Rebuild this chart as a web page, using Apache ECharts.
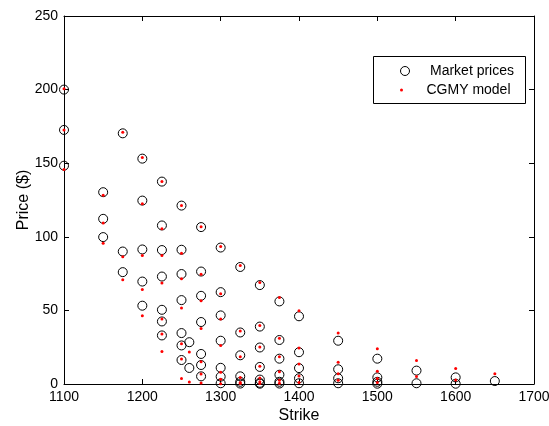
<!DOCTYPE html>
<html>
<head>
<meta charset="utf-8">
<script src="https://cdn.jsdelivr.net/npm/echarts@6/dist/echarts.min.js"></script>
<style>
html,body{margin:0;padding:0;background:#fff;}
#chart{width:549px;height:426px;}
</style>
</head>
<body>
<div id="chart"></div>
<script>
// Strikes (x) and prices per strike
const strikes = [1100, 1150, 1175, 1200, 1225, 1250, 1260, 1275, 1300, 1325, 1350, 1375, 1400, 1450, 1500, 1550, 1600, 1650];
const marketPrices = [
  [200, 172.6, 148.3],
  [130.3, 112.2, 99.8],
  [170.3, 90.0, 76.0],
  [153.1, 124.6, 91.4, 69.6, 53.2],
  [137.5, 107.7, 91.0, 73.0, 50.4, 42.5, 33.0],
  [121.2, 91.2, 74.7, 57.0, 34.6, 26.2, 16.3],
  [28.4, 10.9],
  [106.6, 76.4, 59.9, 42.1, 20.4, 12.9, 5.2],
  [92.7, 62.4, 46.6, 29.4, 11.0, 5.0, 0.5],
  [79.5, 35.0, 19.5, 5.2, 1.5, 0.3],
  [67.2, 39.0, 24.8, 11.6, 3.0, 0.8, 0.2],
  [56.1, 29.9, 17.2, 6.3, 1.5, 0.3],
  [46.0, 21.6, 10.8, 3.9, 0.5],
  [29.4, 10.0, 3.9, 0.5],
  [17.2, 4.5, 1.5, 0.2],
  [9.1, 0.5],
  [4.5, 0.2],
  [2.0]
];
const modelPrices = [
  [200.5, 172.6, 145.8],
  [128.3, 109.3, 95.7],
  [171.0, 86.4, 70.8],
  [153.8, 122.4, 87.3, 64.2, 46.4],
  [137.5, 105.4, 87.3, 68.6, 44.1, 33.9, 22.1],
  [121.2, 88.9, 71.5, 51.6, 27.4, 17.0, 3.8],
  [21.7, 1.4],
  [106.8, 74.5, 56.5, 37.7, 15.1, 6.8, 0.7],
  [93.4, 61.3, 44.1, 26.2, 7.9, 3.2, 0.2],
  [80.5, 36.0, 18.5, 4.5, 1.0, 0.3],
  [69.0, 39.8, 25.2, 12.0, 4.0, 1.5, 0.3],
  [58.8, 31.0, 18.5, 8.3, 2.5, 0.5],
  [49.8, 24.4, 13.6, 5.5, 1.0],
  [34.6, 14.7, 7.0, 2.5],
  [24.0, 8.6, 3.7, 1.1],
  [16.0, 5.1],
  [10.6, 2.7],
  [7.0]
];
const xTicks = [1100, 1200, 1300, 1400, 1500, 1600, 1700];
const yTicks = [0, 50, 100, 150, 200, 250];
const seriesNames = ['Market prices', 'CGMY model'];

function toPoints(lists) {
  const pts = [];
  strikes.forEach((k, i) => lists[i].forEach(v => pts.push([k, v])));
  return pts;
}

const FONT = 'Liberation Sans, Arial, Helvetica, sans-serif';
const chart = echarts.init(document.getElementById('chart'), null, {renderer: 'canvas'});

const axisCommon = {
  axisLine: {show: true, onZero: false, lineStyle: {color: '#000', width: 1}},
  axisTick: {show: true, inside: true, length: 5, lineStyle: {color: '#000'}},
  splitLine: {show: false}
};
const plain = v => String(v);

chart.setOption({
  animation: false,
  backgroundColor: '#fff',
  grid: {left: 64, right: 15, top: 16, bottom: 42, containLabel: false, outerBoundsMode: 'none'},
  xAxis: [
    Object.assign({
      type: 'value', position: 'bottom',
      min: xTicks[0], max: xTicks[xTicks.length - 1], interval: 100,
      name: 'Strike', nameLocation: 'middle', nameGap: 24, nameMoveOverlap: false,
      nameTextStyle: {fontFamily: FONT, fontSize: 16, color: '#000'},
      axisLabel: {show: true, margin: 6, fontFamily: FONT, fontSize: 14, color: '#000', formatter: plain}
    }, axisCommon),
    Object.assign({
      type: 'value', position: 'top',
      min: xTicks[0], max: xTicks[xTicks.length - 1], interval: 100,
      axisLabel: {show: false}
    }, axisCommon)
  ],
  yAxis: [
    Object.assign({
      type: 'value', position: 'left',
      min: yTicks[0], max: yTicks[yTicks.length - 1], interval: 50,
      name: 'Price ($)', nameLocation: 'middle', nameGap: 32, nameMoveOverlap: false,
      nameTextStyle: {fontFamily: FONT, fontSize: 16, color: '#000'},
      axisLabel: {show: true, margin: 6, fontFamily: FONT, fontSize: 14, color: '#000', formatter: plain}
    }, axisCommon),
    Object.assign({
      type: 'value', position: 'right',
      min: yTicks[0], max: yTicks[yTicks.length - 1], interval: 50,
      axisLabel: {show: false}
    }, axisCommon)
  ],
  graphic: [{
    type: 'rect', z: 10,
    shape: {x: 373.5, y: 56.5, width: 152, height: 47},
    style: {fill: '#fff', stroke: '#000', lineWidth: 1}
  }],
  legend: [
    {
      data: [{name: seriesNames[0], icon: 'circle',
        itemStyle: {color: 'rgba(0,0,0,0)', borderColor: '#000', borderWidth: 1}}],
      left: 400, top: 64, padding: 0, itemWidth: 40, itemHeight: 9,
      selectedMode: false, z: 20,
      textStyle: {fontFamily: FONT, fontSize: 14, color: '#000'}
    },
    {
      data: [{name: seriesNames[1], icon: 'circle', itemStyle: {color: '#ff0000', borderWidth: 0}}],
      left: 400, top: 83, padding: 0, itemWidth: 40, itemHeight: 3,
      selectedMode: false, z: 20,
      textStyle: {fontFamily: FONT, fontSize: 14, color: '#000'}
    }
  ],
  series: [
    {
      name: seriesNames[0], type: 'scatter', xAxisIndex: 0, yAxisIndex: 0,
      symbol: 'circle', symbolSize: 9, clip: false,
      itemStyle: {color: 'rgba(0,0,0,0)', borderColor: '#000', borderWidth: 1, opacity: 1},
      emphasis: {disabled: true},
      data: toPoints(marketPrices)
    },
    {
      name: seriesNames[1], type: 'scatter', xAxisIndex: 0, yAxisIndex: 0,
      symbol: 'circle', symbolSize: 3, clip: false,
      itemStyle: {color: '#ff0000', opacity: 1},
      emphasis: {disabled: true},
      data: toPoints(modelPrices)
    }
  ]
});
</script>
</body>
</html>
